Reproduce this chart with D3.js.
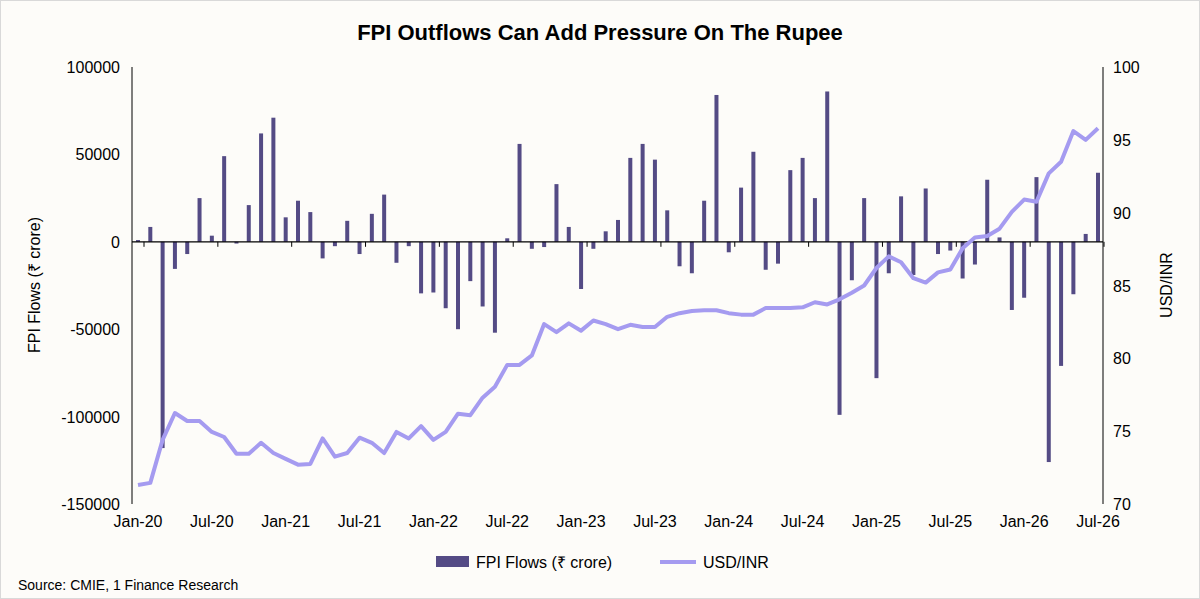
<!DOCTYPE html>
<html><head><meta charset="utf-8">
<script src="https://cdn.jsdelivr.net/npm/d3@7"></script>
<style>body{margin:0;background:#fff;font-family:"Liberation Sans",Arial,sans-serif}</style>
</head><body><svg id="c" width="1200" height="599"></svg>
<script>
// monthly data Jan-20 .. Jul-26
var fpiFlows = [1000,8500,-118000,-15500,-7000,25000,3500,49000,-1000,21000,62000,71000,
  14000,23500,17000,-9500,-2500,12000,-7000,16000,27000,-12000,-2500,-29500,
  -29000,-38000,-50000,-22500,-37000,-52000,2000,56000,-4000,-3000,33000,8500,
  -27000,-4000,6000,12500,48000,56000,47000,18000,-14000,-18000,23500,84000,
  -6000,31000,51500,-16000,-12500,41000,48000,25000,86000,-99000,-22000,25000,
  -78000,-18000,26000,-19000,30500,-7000,-5000,-21000,-13000,35500,2500,-39000,
  -32000,37000,-126000,-71000,-30000,4500,39500];
var usdInr = [71.3,71.45,74.4,76.25,75.7,75.7,74.95,74.6,73.45,73.45,74.2,73.5,
  73.1,72.7,72.75,74.5,73.25,73.5,74.55,74.2,73.5,74.95,74.5,75.35,
  74.4,74.95,76.2,76.1,77.3,78.05,79.55,79.55,80.2,82.35,81.8,82.4,
  81.9,82.6,82.35,82.0,82.3,82.15,82.15,82.85,83.1,83.25,83.3,83.3,
  83.1,83.0,83.0,83.45,83.45,83.45,83.5,83.85,83.7,84.05,84.5,85.0,
  86.2,87.0,86.6,85.5,85.2,85.9,86.1,87.55,88.3,88.4,88.9,90.05,
  90.9,90.75,92.7,93.5,95.6,95.0,95.8];
var monthNames = ["Jan","Feb","Mar","Apr","May","Jun","Jul","Aug","Sep","Oct","Nov","Dec"];
var months = fpiFlows.map(function(d,i){ return monthNames[i%12] + "-" + (20 + Math.floor(i/12)); });
var leftTicks = [100000,50000,0,-50000,-100000,-150000];
var rightTicks = [100,95,90,85,80,75,70];

var svg = d3.select("#c");
svg.append("rect").attr("x",0.5).attr("y",0.5).attr("width",1199).attr("height",598)
  .attr("fill","#fdfcf9").attr("stroke","#d9d9d9");

var x = d3.scaleLinear().domain([0, months.length-1]).range([138,1098]);
var yL = d3.scaleLinear().domain([-150000,100000]).range([504,67]);
var yR = d3.scaleLinear().domain([70,100]).range([504,67]);

// axes lines
svg.append("line").attr("x1",132).attr("x2",132).attr("y1",67).attr("y2",504).attr("stroke","#000");
svg.append("line").attr("x1",1103).attr("x2",1103).attr("y1",67).attr("y2",504).attr("stroke","#000");

svg.selectAll(".lt").data(leftTicks).enter().append("text")
  .attr("x",120).attr("y",function(d){return yL(d)+6;}).attr("text-anchor","end")
  .attr("font-size",16).text(function(d){return d;});
svg.selectAll(".rt").data(rightTicks).enter().append("text")
  .attr("x",1113).attr("y",function(d){return yR(d)+6;})
  .attr("font-size",16).text(function(d){return d;});

// bars
svg.selectAll(".bar").data(fpiFlows).enter().append("rect")
  .attr("x",function(d,i){return x(i)-2;}).attr("width",4)
  .attr("y",function(d){return yL(Math.max(0,d));})
  .attr("height",function(d){return Math.abs(yL(d)-yL(0));})
  .attr("fill","#544b85");

// zero line + ticks
svg.append("line").attr("x1",132).attr("x2",1103).attr("y1",yL(0)).attr("y2",yL(0)).attr("stroke","#000").attr("stroke-width",1.2);
svg.selectAll(".xt").data(d3.range(0,months.length,6)).enter().append("line")
  .attr("x1",function(i){return x(i)+6;}).attr("x2",function(i){return x(i)+6;})
  .attr("y1",yL(0)).attr("y2",yL(0)+5).attr("stroke","#000");

// line
svg.append("path").datum(usdInr)
  .attr("d", d3.line().x(function(d,i){return x(i);}).y(function(d){return yR(d);}))
  .attr("fill","none").attr("stroke","#a59bf0").attr("stroke-width",4).attr("stroke-linejoin","round");

svg.selectAll(".xl").data(d3.range(0,months.length,6)).enter().append("text")
  .attr("x",function(i){return x(i);}).attr("y",527).attr("text-anchor","middle")
  .attr("font-size",16).text(function(i){return months[i];});

svg.append("text").attr("x",600).attr("y",40).attr("text-anchor","middle")
  .attr("font-size",22).attr("font-weight","bold").text("FPI Outflows Can Add Pressure On The Rupee");
svg.append("text").attr("transform","translate(40,285) rotate(-90)").attr("text-anchor","middle")
  .attr("font-size",16).text("FPI Flows (₹ crore)");
svg.append("text").attr("transform","translate(1172,285) rotate(-90)").attr("text-anchor","middle")
  .attr("font-size",16).text("USD/INR");

// legend
svg.append("rect").attr("x",436).attr("y",556).attr("width",33).attr("height",11).attr("fill","#544b85");
svg.append("text").attr("x",476).attr("y",568).attr("font-size",16).text("FPI Flows (₹ crore)");
svg.append("line").attr("x1",660).attr("x2",696).attr("y1",562).attr("y2",562).attr("stroke","#a59bf0").attr("stroke-width",4);
svg.append("text").attr("x",703).attr("y",568).attr("font-size",16).text("USD/INR");

svg.append("text").attr("x",18).attr("y",590).attr("font-size",14).text("Source: CMIE, 1 Finance Research");
</script></body></html>
